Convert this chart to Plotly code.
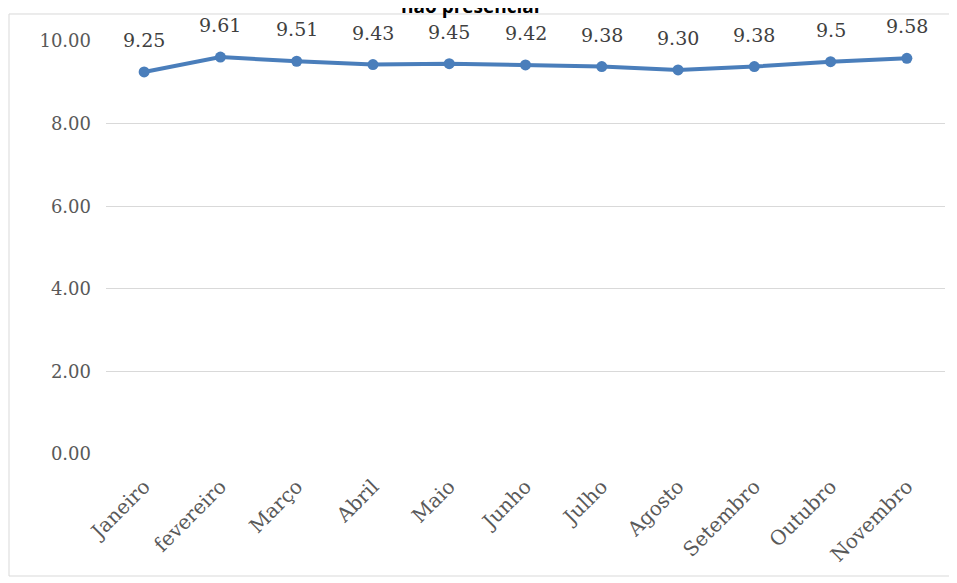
import plotly.graph_objects as go

# dados
meses = ["Janeiro", "fevereiro", "Março", "Abril", "Maio", "Junho",
         "Julho", "Agosto", "Setembro", "Outubro", "Novembro"]
notas = [9.25, 9.61, 9.51, 9.43, 9.45, 9.42, 9.38, 9.30, 9.38, 9.50, 9.58]
rotulos = ["9.25", "9.61", "9.51", "9.43", "9.45", "9.42", "9.38", "9.30", "9.38", "9.5", "9.58"]
ticks_y = [0, 2, 4, 6, 8, 10]
ticks_y_txt = ["0.00", "2.00", "4.00", "6.00", "8.00", "10.00"]

_AZUL = "#4a7ebb"
_CINZA = "#595959"
_GRID = "#d9d9d9"
_SERIF = "DejaVu Serif, serif"

fig = go.Figure(go.Scatter(
    x=meses, y=notas,
    mode="lines+markers",
    line=dict(color=_AZUL, width=4),
    marker=dict(size=11, color=_AZUL),
    cliponaxis=False,
    hoverinfo="x+y",
))

# rótulos de dados acima dos pontos
for m, v, t in zip(meses, notas, rotulos):
    fig.add_annotation(
        x=m, y=v, text=t, showarrow=False,
        yshift=32, font=dict(family=_SERIF, size=19, color="#404040"),
    )

# título cortado no topo (só a parte de baixo aparece)
fig.add_annotation(
    x=0.435, y=1.048, xref="paper", yref="paper",
    text="<b>não presencial</b>", showarrow=False,
    xanchor="center", yanchor="bottom",
    font=dict(family="Open Sans, sans-serif", size=19, color="#000000"),
)

# moldura da área do gráfico
fig.add_shape(
    type="rect", xref="paper", yref="paper",
    x0=-0.1156, x1=1.0072, y0=-0.2954, y1=1.0654,
    line=dict(color=_GRID, width=1), layer="below",
)

# a página tem margem de 8px no body
fig.update_layout(
    width=949, height=575,
    paper_bgcolor="white", plot_bgcolor="white",
    margin=dict(l=98, r=12, t=33, b=129, autoexpand=False),
    showlegend=False,
    font=dict(family=_SERIF, color=_CINZA),
)
fig.update_xaxes(
    type="category", range=[-0.5, 10.5], automargin=False,
    showgrid=False, showline=False, zeroline=False,
    tickangle=-45, tickfont=dict(family=_SERIF, size=20, color=_CINZA),
    ticks="", ticklabelstandoff=16,
)
fig.update_yaxes(
    range=[0, 10], tickvals=ticks_y, ticktext=ticks_y_txt, automargin=False,
    showgrid=True, gridcolor=_GRID, gridwidth=1,
    zeroline=False, showline=False, ticks="", ticklabelstandoff=14,
    tickfont=dict(family=_SERIF, size=18, color=_CINZA),
)

fig.write_html("out.html")
